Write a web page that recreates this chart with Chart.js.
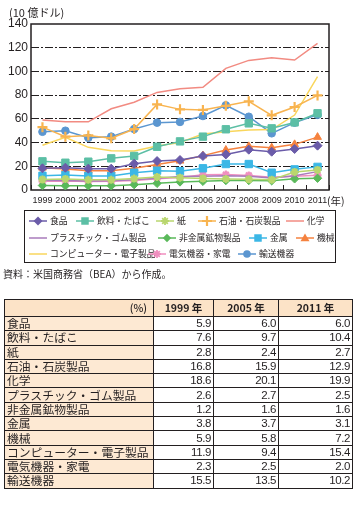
<!DOCTYPE html>
<html>
<head>
<meta charset="utf-8">
<script src="https://cdn.jsdelivr.net/npm/chart.js@4/dist/chart.umd.min.js"></script>
<style>
  html, body { margin:0; padding:0; background:#fff; }
  body { width:357px; height:509px; position:relative; overflow:hidden; font-family:"Noto Sans CJK JP","Liberation Sans",sans-serif; color:#231f20; }
  #c { position:absolute; left:0; top:0; }
  .abs { position:absolute; white-space:nowrap; }
  #legend { position:absolute; left:24px; top:210px; width:312px; height:53px; border:1px solid #231f20; box-sizing:border-box; }
  .li { position:absolute; height:14px; display:flex; align-items:center; font-size:8.8px; line-height:14px; white-space:nowrap; width:max-content; }
  .li svg { margin-right:3px; flex:none; }
  table { position:absolute; left:4px; top:299px; border-collapse:collapse; table-layout:fixed; }
  td, th { border:1px solid #231f20; padding:0 2px; height:12.3px; line-height:12px; font-size:11.8px; overflow:hidden; white-space:nowrap; vertical-align:middle; }
  td { padding-bottom:1px; }
  th { background:#fce3c7; font-weight:700; height:16px; font-size:10.5px; text-align:center; }
  th.pct { text-align:right; padding-right:6px; font-weight:500; }
  td.lab { background:#fde9d3; text-align:left; }
  td.num { text-align:right; font-family:"Liberation Sans",sans-serif; font-size:11.5px; letter-spacing:-0.4px; }
</style>
</head>
<body>
<canvas id="c" width="357" height="207"></canvas>
<div class="abs" style="left:9px;top:4px;font-size:11px;">(10 億ドル)</div>
<div class="abs" style="left:327px;top:193px;font-size:10.5px;">(年)</div>
<div id="legend"></div>
<div class="abs" style="left:3px;top:266px;font-size:10px;">資料：米国商務省（BEA）から作成。</div>
<table id="tbl"></table>
<script>
// ---- data ----
const years = ['1999','2000','2001','2002','2003','2004','2005','2006','2007','2008','2009','2010','2011'];
const food        = [18.3, 18.8, 18.0, 18.0, 22.2, 24.4, 25.3, 28.7, 30.0, 34.0, 32.3, 34.6, 37.4];
const beverage    = [24.2, 23.0, 23.9, 26.7, 28.7, 36.5, 41.0, 45.0, 51.2, 56.2, 52.0, 57.0, 64.7];
const paper       = [8.9, 9.3, 8.6, 8.6, 9.6, 11.0, 10.4, 9.8, 9.3, 9.0, 8.7, 15.2, 16.9];
const petroleum   = [53.0, 45.0, 46.0, 43.6, 51.4, 72.2, 68.0, 67.5, 71.0, 74.8, 63.0, 70.0, 79.8];
const chemical    = [59.0, 57.5, 57.5, 68.5, 74.0, 82.3, 85.3, 86.6, 102.6, 109.3, 111.6, 109.6, 123.7];
const plastics    = [8.2, 8.0, 7.6, 7.8, 8.6, 10.0, 11.4, 11.7, 12.0, 11.5, 10.2, 12.0, 15.5];
const nonmetallic = [3.8, 3.6, 3.6, 3.6, 4.5, 5.6, 6.8, 7.3, 8.0, 8.0, 7.8, 9.4, 9.9];
const metal       = [12.0, 12.6, 11.8, 11.8, 14.6, 16.3, 15.9, 18.3, 21.9, 21.9, 14.6, 17.4, 19.5];
const machinery   = [18.7, 17.7, 16.3, 16.3, 18.3, 21.6, 24.6, 29.0, 33.7, 36.8, 35.7, 38.5, 44.6];
const computer    = [37.7, 44.4, 36.0, 33.2, 32.9, 37.1, 40.0, 47.2, 49.2, 50.6, 51.0, 63.2, 95.7];
const electrical  = [7.3, 7.5, 7.2, 7.3, 8.0, 9.5, 10.6, 12.8, 13.0, 12.3, 10.8, 11.5, 12.4];
const transport   = [49.1, 50.0, 44.0, 45.0, 51.4, 56.8, 57.4, 62.4, 71.4, 61.8, 47.8, 56.8, 63.4];

const seriesNames = ['食品','飲料・たばこ','紙','石油・石炭製品','化学','プラスチック・ゴム製品','非金属鉱物製品','金属','機械','コンピューター・電子製品','電気機器・家電','輸送機器'];
const yTicks = [0, 20, 40, 60, 80, 100, 120, 140];

// table (%)
const tableHeaders = ['(%)', '1999 年', '2005 年', '2011 年'];
const share1999 = ['5.9','7.6','2.8','16.8','18.6','2.6','1.2','3.8','5.9','11.9','2.3','15.5'];
const share2005 = ['6.0','9.7','2.4','15.9','20.1','2.7','1.6','3.7','5.8','9.4','2.5','13.5'];
const share2011 = ['6.0','10.4','2.7','12.9','19.9','2.5','1.6','3.1','7.2','15.4','2.0','10.2'];

// ---- styles ----
const seriesData = [food, beverage, paper, petroleum, chemical, plastics, nonmetallic, metal, machinery, computer, electrical, transport];
const colors = ['#6b5ca9','#5cbfa5','#b9d66e','#f8b450','#f28b82','#a87bbb','#5ab95a','#3bb7e6','#f5823f','#f9d65c','#f08fbf','#5b96d0'];
const styles = ['rectRot','rect','star','cross',false,false,'rectRot','rect','triangle',false,'star','circle'];
const radii  = [4.5, 5.2, 4, 5, 0, 0, 4.2, 5.2, 4.5, 0, 4, 3.8];

const datasets = seriesData.map((d, i) => ({
  label: seriesNames[i],
  data: d,
  borderColor: colors[i],
  backgroundColor: colors[i],
  borderWidth: 1.5,
  pointStyle: styles[i] || 'circle',
  pointRadius: radii[i],
  pointBorderWidth: (styles[i] === 'cross' || styles[i] === 'star') ? 2.2 : 1,
  pointBorderColor: colors[i],
  pointBackgroundColor: colors[i],
  tension: 0,
  fill: false
}));

const framePlugin = {
  id: 'frame',
  beforeDatasetsDraw(chart) {
    const a = chart.chartArea, ctx = chart.ctx, xs = chart.scales.x;
    ctx.save();
    ctx.strokeStyle = '#231f20';
    ctx.lineWidth = 1.5;
    ctx.strokeRect(a.left, a.top, a.right - a.left, a.bottom - a.top);
    ctx.lineWidth = 1;
    ctx.beginPath();
    for (let i = 0; i <= years.length; i++) {
      const x = Math.round(xs.getPixelForValue(i - 0.5)) + 0.5;
      ctx.moveTo(x, a.bottom);
      ctx.lineTo(x, a.bottom - 5);
    }
    ctx.stroke();
    ctx.restore();
  }
};

const chart = new Chart(document.getElementById('c'), {
  type: 'line',
  data: { labels: years, datasets },
  options: {
    responsive: false,
    animation: false,
    devicePixelRatio: 1,
    layout: { padding: { left: 0, right: 28, top: 24, bottom: 0 } },
    plugins: { legend: { display: false }, tooltip: { enabled: false } },
    scales: {
      x: {
        type: 'category',
        offset: true,
        grid: { display: false, drawTicks: false },
        border: { display: false },
        ticks: { color: '#231f20', font: { family: "'Liberation Sans',sans-serif", size: 9 }, padding: 5, maxRotation: 0, autoSkip: false },
        afterFit: s => { s.height = 17; }
      },
      y: {
        min: 0, max: 140,
        afterBuildTicks: s => { s.ticks = yTicks.map(v => ({ value: v })); },
        grid: {
          drawTicks: false,
          color: c => (c.tick && (c.tick.value === 0 || c.tick.value === 140)) ? 'rgba(0,0,0,0)' : '#231f20',
          lineWidth: 1
        },
        border: { display: false, dash: [8, 2, 2, 2] },
        ticks: { color: '#231f20', font: { family: "'Liberation Sans',sans-serif", size: 12 }, padding: 3 },
        afterFit: s => { s.width = 31; }
      }
    }
  },
  plugins: [framePlugin]
});

// ---- legend (built from chart datasets) ----
const legendRows = [[0,1,2,3,4],[5,6,7,8],[9,10,11]];
const legendLeft = [[4,51,131,173,261],[4,133,224,271],[4,123,213]];
const legendTop = [3, 19.5, 36];
function markerSVG(ds) {
  const w = 18, h = 12, cx = 9, cy = 6, c = ds.borderColor;
  let s = `<svg width="${w}" height="${h}" viewBox="0 0 ${w} ${h}"><line x1="0" y1="${cy}" x2="${w}" y2="${cy}" stroke="${c}" stroke-width="1.5"/>`;
  const r = ds.pointRadius;
  if (r > 0) {
    switch (ds.pointStyle) {
      case 'rectRot': s += `<polygon points="${cx},${cy-r} ${cx+r},${cy} ${cx},${cy+r} ${cx-r},${cy}" fill="${c}"/>`; break;
      case 'rect': { const a = r*0.72; s += `<rect x="${cx-a}" y="${cy-a}" width="${2*a}" height="${2*a}" fill="${c}"/>`; break; }
      case 'circle': s += `<circle cx="${cx}" cy="${cy}" r="${r}" fill="${c}"/>`; break;
      case 'triangle': s += `<polygon points="${cx},${cy-r} ${cx+r},${cy+r*0.7} ${cx-r},${cy+r*0.7}" fill="${c}"/>`; break;
      case 'cross': s += `<path d="M${cx} ${cy-r}V${cy+r}M${cx-r} ${cy}H${cx+r}" stroke="${c}" stroke-width="2.2"/>`; break;
      case 'star': { const d = r*0.7; s += `<path d="M${cx} ${cy-r}V${cy+r}M${cx-r} ${cy}H${cx+r}M${cx-d} ${cy-d}L${cx+d} ${cy+d}M${cx-d} ${cy+d}L${cx+d} ${cy-d}" stroke="${c}" stroke-width="1.8"/>`; break; }
    }
  }
  return s + '</svg>';
}
const lg = document.getElementById('legend');
legendRows.forEach((row, ri) => {
  row.forEach((di, k) => {
    const ds = chart.data.datasets[di];
    const el = document.createElement('div');
    el.className = 'li';
    el.style.left = legendLeft[ri][k] + 'px';
    el.style.top = legendTop[ri] + 'px';
    el.innerHTML = markerSVG(ds) + '<span>' + ds.label + '</span>';
    lg.appendChild(el);
  });
});

// ---- table ----
const tbl = document.getElementById('tbl');
const colW = [149, 60, 65, 74];
let html = '<colgroup>' + colW.map(w => `<col style="width:${w}px">`).join('') + '</colgroup>';
html += '<tr>' + tableHeaders.map((h, i) => `<th class="${i===0?'pct':''}">${h}</th>`).join('') + '</tr>';
seriesNames.forEach((n, i) => {
  html += `<tr><td class="lab">${n}</td><td class="num">${share1999[i]}</td><td class="num">${share2005[i]}</td><td class="num">${share2011[i]}</td></tr>`;
});
tbl.innerHTML = html;
</script>
</body>
</html>
